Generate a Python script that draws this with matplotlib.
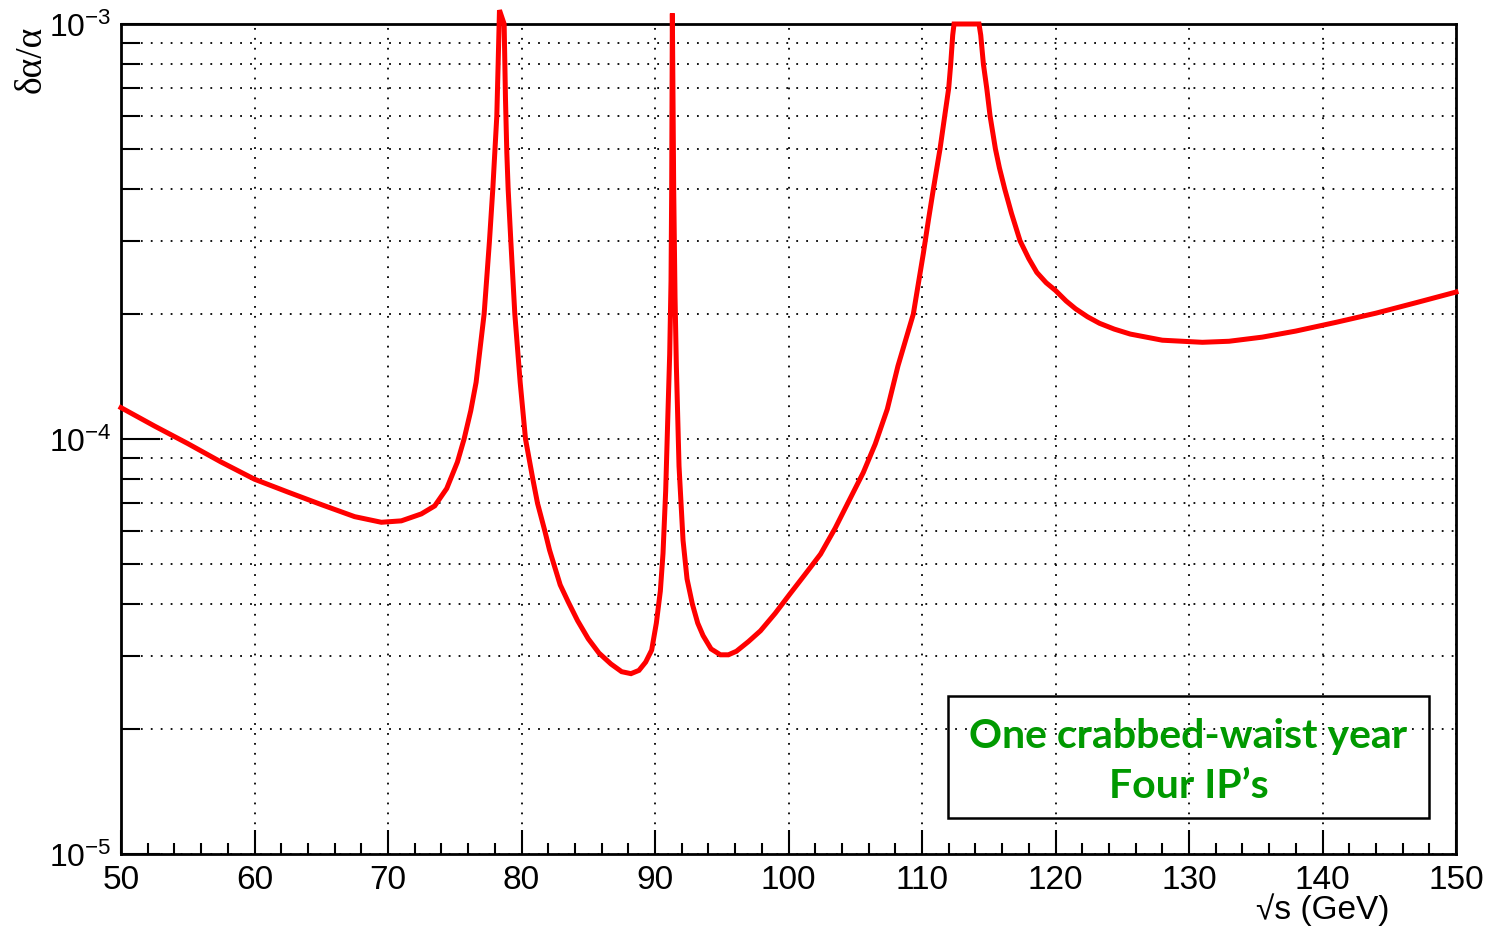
import matplotlib
matplotlib.use("Agg")
import matplotlib.pyplot as plt
from matplotlib.patches import Rectangle
from matplotlib.ticker import FixedLocator, LogLocator, NullFormatter

plt.rcParams['font.family'] = ['Liberation Sans', 'DejaVu Sans']
plt.rcParams['mathtext.default'] = 'regular'

# sqrt(s) in GeV and relative precision on alpha
sqrt_s = [50, 52.5, 55, 57.5, 60, 62.5, 65, 67.5, 69.5, 71, 72.5, 73.5, 74.4, 75.2,
          75.7, 76.2, 76.6, 77.2, 77.6, 77.85, 78.0, 78.15, 78.25, 78.35, 78.7, 78.8,
          78.9, 79.0, 79.2, 79.5, 79.9, 80.3, 80.85, 81.2, 81.75, 82.1, 82.9, 83.5,
          84.2, 85.0, 85.8, 86.7, 87.5, 88.2, 88.8, 89.3, 89.75, 90.1, 90.4, 90.6,
          90.8, 90.95, 91.1, 91.2, 91.25, 91.3, 91.4, 91.5, 91.6, 91.8, 92.1, 92.4,
          92.8, 93.2, 93.6, 94.2, 94.9, 95.5, 96.1, 97.0, 97.9, 99.0, 100.1, 101.2,
          102.4, 103.5, 104.6, 105.6, 106.5, 107.4, 108.2, 109.35, 110.1, 110.5,
          110.85, 111.35, 111.7, 112.0, 112.15, 112.3, 112.4, 114.27, 114.4, 114.6,
          114.85, 115.1, 115.5, 115.8, 116.2, 116.7, 117.35, 118.0, 118.6, 119.3,
          120.0, 120.8, 121.5, 122.4, 123.3, 124.4, 125.6, 128.0, 131.0, 133.0,
          135.5, 138.0, 141.0, 144.0, 147.0, 150.0]
dalpha = [1.19e-4, 1.075e-4, 9.75e-5, 8.8e-5, 8.0e-5, 7.45e-5, 6.95e-5, 6.5e-5, 6.3e-5,
          6.35e-5, 6.6e-5, 6.9e-5, 7.6e-5, 8.8e-5,
          1.0e-4, 1.17e-4, 1.37e-4, 2.0e-4, 3.0e-4, 4.0e-4, 4.9e-4, 6.0e-4, 8.0e-4,
          1.08e-3, 1.0e-3, 6.6e-4,
          4.9e-4, 4.0e-4, 3.0e-4, 2.0e-4, 1.37e-4, 1.0e-4, 8.0e-5, 7.0e-5, 6.0e-5,
          5.4e-5, 4.45e-5, 4.05e-5,
          3.65e-5, 3.3e-5, 3.05e-5, 2.87e-5, 2.75e-5, 2.72e-5, 2.77e-5, 2.9e-5,
          3.1e-5, 3.6e-5, 4.3e-5, 5.3e-5,
          7.5e-5, 1.1e-4, 1.6e-4, 2.4e-4, 4.0e-4, 1.06e-3, 4.0e-4, 2.2e-4, 1.5e-4,
          8.6e-5, 5.7e-5, 4.6e-5,
          4.0e-5, 3.6e-5, 3.36e-5, 3.12e-5, 3.02e-5, 3.02e-5, 3.08e-5, 3.25e-5,
          3.45e-5, 3.8e-5, 4.23e-5, 4.7e-5,
          5.28e-5, 6.1e-5, 7.17e-5, 8.3e-5, 9.73e-5, 1.18e-4, 1.5e-4, 2.0e-4,
          2.8e-4, 3.4e-4,
          4.0e-4, 5.0e-4, 6.0e-4, 7.0e-4, 8.0e-4, 9.4e-4, 1.0e-3, 1.0e-3, 9.4e-4,
          8.0e-4,
          7.0e-4, 6.0e-4, 5.0e-4, 4.5e-4, 4.0e-4, 3.5e-4, 3.0e-4, 2.72e-4, 2.52e-4,
          2.38e-4,
          2.28e-4, 2.15e-4, 2.06e-4, 1.97e-4, 1.9e-4, 1.84e-4, 1.79e-4, 1.73e-4,
          1.71e-4, 1.72e-4,
          1.76e-4, 1.82e-4, 1.91e-4, 2.01e-4, 2.13e-4, 2.26e-4]

x_major = [50, 60, 70, 80, 90, 100, 110, 120, 130, 140, 150]
y_major = [1e-5, 1e-4, 1e-3]
y_labels = ['$10^{-5}$', '$10^{-4}$', '$10^{-3}$']
note_lines = ["One crabbed-waist year", "Four IP\u2019s"]

W, H = 1487, 928
fig = plt.figure(figsize=(W / 100, H / 100), dpi=100)
ax = fig.add_axes([121 / W, 1 - 855 / H, (1456 - 121) / W, (855 - 25) / H])

ax.plot(sqrt_s, dalpha, color='#ff0000', lw=3.6, solid_joinstyle='miter',
        clip_on=False, zorder=3)

ax.set_yscale('log')
ax.set_xlim(50, 150)
ax.set_ylim(1e-5, 1e-3)

# ROOT-like frame: ticks inside, bottom/left only
ax.xaxis.set_major_locator(FixedLocator(x_major))
ax.xaxis.set_minor_locator(FixedLocator([v for v in range(52, 150, 2) if v % 10]))
ax.yaxis.set_major_locator(FixedLocator(y_major))
ax.yaxis.set_minor_locator(LogLocator(base=10, subs=range(2, 10)))
ax.yaxis.set_minor_formatter(NullFormatter())
ax.set_xticklabels([str(v) for v in x_major], fontsize=24)
ax.set_yticklabels(y_labels, fontsize=23)
ax.tick_params(axis='x', which='major', direction='in', length=17, width=1.5, pad=7)
ax.tick_params(axis='x', which='minor', direction='in', length=8, width=1.5)
ax.tick_params(axis='y', which='major', direction='in', length=28, width=1.5, pad=7)
ax.tick_params(axis='y', which='minor', direction='in', length=14, width=1.5)
for s in ax.spines.values():
    s.set_linewidth(2)

ax.grid(True, which='major', axis='x', color='black', lw=1.3, ls=(0, (1, 4.5)))
ax.grid(True, which='both', axis='y', color='black', lw=1.3, ls=(0, (1, 4.5)))
ax.set_axisbelow(True)

fig.text(1390 / W, 1 - 910 / H, '\u221as (GeV)', fontsize=24, ha='right', va='center')
fig.text(31 / W, 1 - 26 / H, '\u03b4\u03b1/\u03b1', fontsize=27, rotation=90,
         ha='center', va='top', family=['Liberation Serif', 'DejaVu Serif'])

# annotation box
bx0, by0 = (948 - 121) / 1335, (855 - 819) / 830
ax.add_patch(Rectangle((bx0, by0), 481 / 1335, 122 / 830, transform=ax.transAxes,
                       fill=False, edgecolor='black', lw=1.8, zorder=4))
cx = 0.5 * (948 + 1429 - 242) / 1335
for line, ypx in zip(note_lines, [737, 787]):
    ax.text(cx, (855 - ypx) / 830, line, transform=ax.transAxes, ha='center',
            va='center', color='#009900', fontsize=29.5, fontweight='bold',
            family=['Lato', 'DejaVu Sans'], zorder=5)

fig.savefig('out.png', dpi=100)
